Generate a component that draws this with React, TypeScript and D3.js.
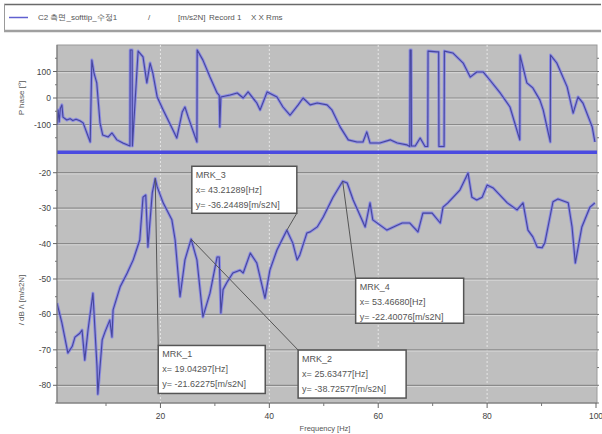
import React from "react";
import * as d3 from "d3";

const magFreq = [1.0,1.9,3.0,3.8,4.3,5.2,5.6,6.1,6.7,7.6,8.35,8.5,9.3,9.8,10.7,11.1,11.3,12.6,13.9,15.0,16.2,16.8,17.3,17.7,18.5,19.04,19.4,20.5,22.1,22.7,23.6,24.5,25.63,26.7,27.8,29.1,30.4,30.8,31.1,31.5,32.2,33.3,34.6,35.2,36.5,37.7,39.2,40.1,41.4,43.21,44.3,45.1,45.6,46.9,47.5,48.8,49.9,51.7,53.47,54.3,55.4,57.6,58.5,59.0,61.6,63.5,64.4,65.8,67.3,68.2,69.9,71.4,71.9,72.8,75.0,76.5,77.2,78.1,79.1,80.0,81.1,83.7,85.5,86.6,87.5,88.4,89.2,90.1,90.6,92.1,93.0,94.9,95.6,96.2,97.4,98.9,99.8];
const magValue = [-56.8,-62.4,-70.9,-69,-66.4,-65.3,-64.4,-72.9,-64.4,-54,-74.8,-82.5,-67.2,-65,-61.6,-66.4,-58.7,-52.2,-48.3,-44.6,-39,-26.9,-26.3,-41,-25.7,-21.62,-24,-28.5,-33.3,-39,-55,-44.6,-38.73,-44.6,-60.7,-54,-43.8,-43.8,-59.6,-53,-51,-48.3,-47.5,-48.3,-42.7,-45.5,-55.4,-47.5,-41.8,-36.24,-39.8,-44.6,-43.2,-37,-36.7,-35.3,-32.5,-26.9,-22.4,-22.9,-27.7,-35.3,-28.5,-33.3,-36.2,-34.8,-34.2,-34.2,-36.7,-31.4,-31.4,-34.2,-29.7,-28.5,-24.9,-20.1,-26.9,-27.7,-26.9,-23.5,-24.3,-28.5,-30.5,-28.5,-36.2,-38.1,-41,-41.2,-39.8,-28.2,-27.4,-28.5,-35.3,-45.5,-35.3,-29.7,-28.5];

const phaseFreq = [1.0,1.2,1.4,1.6,1.9,2.1,2.8,3.4,3.9,4.5,5.2,5.8,7.1,7.4,7.8,8.3,8.9,9.4,10.4,11.1,12.0,13.1,14.4,14.45,14.8,14.85,15.9,16.8,17.5,18.1,18.6,19.4,20.5,22.3,23.0,24.0,24.5,25.1,26.7,26.75,27.8,29.1,30.4,30.8,30.9,31.1,32.8,34.1,35.2,36.1,37.7,38.3,39.6,41.4,42.5,43.8,45.3,46.2,47.5,48.8,50.6,51.5,53.0,54.5,56.1,57.2,57.9,58.5,60.3,62.2,63.5,65.3,65.8,65.85,66.05,66.1,66.8,67.7,68.6,69.1,69.15,70.8,71.1,71.15,72.1,72.15,73.7,75.6,76.9,78.1,79.3,80.5,82.4,84.2,86.0,86.05,87.3,88.4,89.7,90.3,91.6,91.65,92.8,94.7,95.8,96.7,97.6,99.3,99.8];
const phaseValue = [-102,-45,-90,-40,-26,-72,-83,-78,-85,-80,-86,-94,-166,143,94,57,-94,-140,-147,-132,-158,-170,-181,181,181,-181,177,155,57,132,94,4,-45,-121,-151,-53,-34,-72,-166,181,143,79,19,10,-109,4,11,19,0,23,-19,-45,23,4,-34,-65,-26,0,-26,-19,-26,-45,-109,-158,-166,-166,-128,-170,-170,-158,-170,-177,-183,181,181,-181,-181,-151,-183,-183,177,174,174,-183,-183,177,170,132,79,98,98,68,19,-34,-158,162,57,38,-8,-45,-166,162,132,42,-57,4,-19,-109,-166];

const markerNames = ["MRK_1", "MRK_2", "MRK_3", "MRK_4"];
const markerFreq = [19.04297, 25.63477, 43.21289, 53.4668];
const markerValue = [-21.62275, -38.72577, -36.24489, -22.40076];
const markerFreqText = ["19.04297", "25.63477", "43.21289", "53.46680"];
const markerValueText = ["-21.62275", "-38.72577", "-36.24489", "-22.40076"];

const xTicks = [20, 40, 60, 80, 100];
const xMinor = [10, 30, 50, 70, 90];
const phaseTicks = [100, 0, -100];
const phaseMinor = [150, 50, -50, -150];
const magTicks = [-20, -30, -40, -50, -60, -70, -80];
const magMinor = [-25, -35, -45, -55, -65, -75, -85];

// layout (box offsets relative to the marker point)
const boxOffsets = [
  { dx: 3, dy: 167, w: 107, h: 48, ax: 0, ay: 0 },
  { dx: 107, dy: 111, w: 108, h: 48, ax: 0, ay: 0 },
  { dx: -95, dy: -64, w: 105, h: 47, ax: 1, ay: 1 },
  { dx: 13, dy: 97, w: 108, h: 45, ax: 0, ay: 0 },
];

const L = 57, R = 597;
const font = "Liberation Sans, Arial, sans-serif";

export default function App() {
  const x = d3.scaleLinear().domain([1, 100]).range([L, R - 1]);
  const yP = d3.scaleLinear().domain([-200, 200]).range([151, 45]);
  const yM = d3.scaleLinear().domain([-85, -15]).range([403, 155]);

  const phaseLine = d3.line<number>().x((_, i) => x(phaseFreq[i])).y((d) => yP(d));
  const magLine = d3.line<number>().x((_, i) => x(magFreq[i])).y((d) => yM(d));

  const curveColor = "#46469e";
  const haloColor = "#7c7cec";

  const grid = (y: number, k: string) => (
    <g key={k}>
      <line x1={L} x2={R} y1={y} y2={y} stroke="#8a8a8a" strokeWidth={1.2} />
      <line x1={L} x2={R} y1={y + 1.2} y2={y + 1.2} stroke="#dedede" strokeWidth={0.8} />
    </g>
  );

  return (
    <svg width={602} height={434} style={{ position: "absolute", left: 0, top: 0, background: "#fff" }} fontFamily={font}>
      <defs>
        <clipPath id="cp"><rect x={L} y={45} width={R - L} height={106} /></clipPath>
        <clipPath id="cm"><rect x={L} y={155} width={R - L} height={248} /></clipPath>
      </defs>
      {/* legend */}
      <line x1={4} x2={601} y1={4.5} y2={4.5} stroke="#6a6a6a" strokeWidth={1.5} />
      <line x1={4.5} x2={4.5} y1={4} y2={31} stroke="#9a9a9a" strokeWidth={1} />
      <line x1={4} x2={601} y1={31} y2={31} stroke="#a0a0a0" strokeWidth={2.5} />
      <line x1={9} x2={28} y1={17.5} y2={17.5} stroke="#6060d0" strokeWidth={1.5} />
      <g fontSize={8} fill="#555">
        <text x={38} y={20}>C2 측면_softtip_수정1</text>
        <text x={148} y={20}>/</text>
        <text x={178} y={20}>[m/s2N]</text>
        <text x={209} y={20}>Record 1</text>
        <text x={251} y={20}>X X Rms</text>
      </g>

      {/* plot background */}
      <rect x={L} y={45} width={R - L} height={358} fill="#bfbfbf" stroke="#9a9a9a" strokeWidth={1} />

      {/* vertical dotted grids */}
      {xTicks.slice(0, 4).map((t) => (
        <line key={"vg" + t} x1={x(t)} x2={x(t)} y1={45} y2={403} stroke="#e6e6e6" strokeWidth={1} strokeDasharray="2,2" />
      ))}
      {phaseTicks.map((t) => grid(yP(t), "pg" + t))}
      {magTicks.map((t) => grid(yM(t), "mg" + t))}

      {/* phase curve */}
      <g clipPath="url(#cp)">
        <path d={phaseLine(phaseValue) || ""} fill="none" stroke={haloColor} strokeWidth={3} strokeOpacity={0.75} strokeLinejoin="round" />
        <path d={phaseLine(phaseValue) || ""} fill="none" stroke={curveColor} strokeWidth={1.1} strokeLinejoin="round" />
      </g>
      <rect x={L} y={150.5} width={R - L} height={3.5} fill="#4a4ae0" />

      {/* magnitude curve */}
      <g clipPath="url(#cm)">
        <path d={magLine(magValue) || ""} fill="none" stroke={haloColor} strokeWidth={3} strokeOpacity={0.75} strokeLinejoin="round" />
        <path d={magLine(magValue) || ""} fill="none" stroke={curveColor} strokeWidth={1.1} strokeLinejoin="round" />
      </g>

      {/* left axes */}
      <line x1={L} x2={L} y1={45} y2={403} stroke="#777" strokeWidth={1} />
      {phaseTicks.map((t) => (
        <g key={"pt" + t}>
          <line x1={L - 4} x2={L} y1={yP(t)} y2={yP(t)} stroke="#666" />
          <text x={L - 6} y={yP(t) + 3} fontSize={8.5} fill="#444" textAnchor="end">{t}</text>
        </g>
      ))}
      {phaseMinor.map((t) => (
        <line key={"pm" + t} x1={L - 2} x2={L} y1={yP(t)} y2={yP(t)} stroke="#777" />
      ))}
      {magTicks.map((t) => (
        <g key={"mt" + t}>
          <line x1={L - 4} x2={L} y1={yM(t)} y2={yM(t)} stroke="#666" />
          <text x={L - 6} y={yM(t) + 3} fontSize={8.5} fill="#444" textAnchor="end">{t}</text>
        </g>
      ))}
      {magMinor.map((t) => (
        <line key={"mm" + t} x1={L - 2} x2={L} y1={yM(t)} y2={yM(t)} stroke="#777" />
      ))}
      {/* right minor ticks */}
      {magTicks.concat(magMinor).map((t) => (
        <line key={"rm" + t} x1={R} x2={R + 2} y1={yM(t)} y2={yM(t)} stroke="#777" />
      ))}
      {phaseTicks.concat(phaseMinor).map((t) => (
        <line key={"rp" + t} x1={R} x2={R + 2} y1={yP(t)} y2={yP(t)} stroke="#777" />
      ))}
      <text transform={`translate(24,98) rotate(-90)`} fontSize={8} fill="#555" textAnchor="middle">P hase [°]</text>
      <text transform={`translate(24,300) rotate(-90)`} fontSize={8} fill="#555" textAnchor="middle">/ dB /\ [m/s2N]</text>

      {/* x axis */}
      <line x1={L} x2={R} y1={403} y2={403} stroke="#777" />
      {xTicks.map((t) => (
        <g key={"xt" + t}>
          <line x1={x(t)} x2={x(t)} y1={403} y2={408} stroke="#666" />
          <text x={x(t)} y={419} fontSize={8.5} fill="#444" textAnchor="middle">{t}</text>
        </g>
      ))}
      {xMinor.map((t) => (
        <line key={"xm" + t} x1={x(t)} x2={x(t)} y1={403} y2={406} stroke="#777" />
      ))}
      <text x={325} y={431} fontSize={7.5} fill="#555" textAnchor="middle">Frequency [Hz]</text>

      {/* markers */}
      {markerNames.map((name, i) => {
        const px = x(markerFreq[i]);
        const py = yM(markerValue[i]);
        const b = boxOffsets[i];
        const bx = px + b.dx;
        const by = py + b.dy;
        const lx = bx + b.ax * b.w;
        const ly = by + b.ay * b.h;
        return (
          <g key={name}>
            <line x1={px} y1={py} x2={lx} y2={ly} stroke="#555" strokeWidth={1} />
            <rect x={bx} y={by} width={b.w} height={b.h} fill="#fff" stroke="#555" strokeWidth={1.5} />
            <g fontSize={9} fill="#555">
              <text x={bx + 4} y={by + 12}>{name}</text>
              <text x={bx + 4} y={by + 27}>x= {markerFreqText[i]}[Hz]</text>
              <text x={bx + 4} y={by + 42}>y= {markerValueText[i]}[m/s2N]</text>
            </g>
          </g>
        );
      })}
    </svg>
  );
}
